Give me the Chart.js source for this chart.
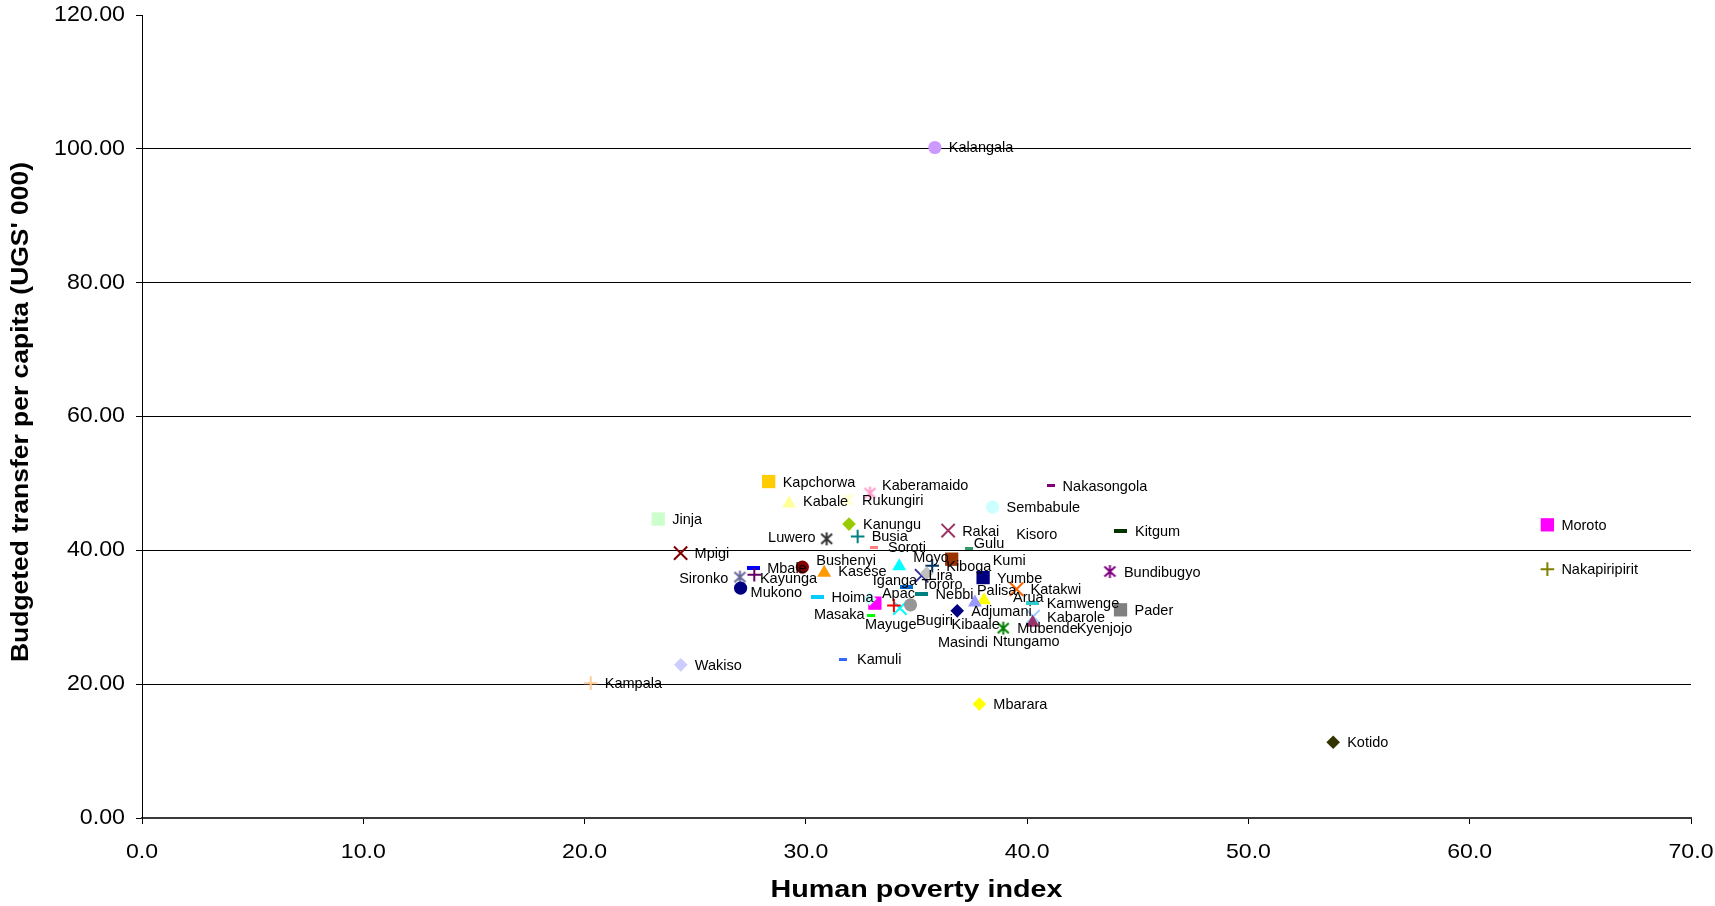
<!DOCTYPE html>
<html>
<head>
<meta charset="utf-8">
<script src="https://cdn.jsdelivr.net/npm/chart.js@4/dist/chart.umd.min.js"></script>
<style>
  html, body { margin: 0; padding: 0; background: #fff; }
  #wrap { width: 1715px; height: 906px; position: relative; }
</style>
</head>
<body>
<div id="wrap"><canvas id="chart" width="1715" height="906"></canvas></div>
<script>
// District names (series order)
const districts = [
  'Adjumani','Apac','Arua','Bugiri','Bundibugyo','Bushenyi','Busia','Gulu','Hoima','Iganga',
  'Jinja','Kabale','Kabarole','Kaberamaido','Kalangala','Kampala','Kamuli','Kamwenge','Kanungu','Kapchorwa',
  'Kasese','Katakwi','Kayunga','Kibaale','Kiboga','Kisoro','Kitgum','Kotido','Kumi','Kyenjojo',
  'Lira','Luwero','Masaka','Masindi','Mayuge','Mbale','Mbarara','Moroto','Moyo','Mpigi',
  'Mubende','Mukono','Nakapiripirit','Nakasongola','Nebbi','Ntungamo','Pader','Palisa','Rakai','Rukungiri',
  'Sembabule','Sironko','Soroti','Tororo','Wakiso','Yumbe'
];

// Human poverty index
const povertyIndex = [
  36.84, 33.12, 38.05, 34.25, 43.74, 29.84, 32.34, 36.59, 30.53, 32.89,
  23.33, 29.24, 40.27, 32.90, 35.83, 20.28, 31.68, 40.25, 31.95, 28.32,
  30.83, 39.52, 27.02, 34.73, 35.71, 37.38, 44.24, 53.83, 36.59, 40.25,
  35.23, 30.94, 29.73, 33.98, 32.94, 27.62, 37.84, 63.51, 34.22, 24.34,
  38.92, 27.05, 63.51, 41.06, 35.23, 35.46, 44.22, 37.64, 36.43, 31.91,
  38.44, 27.67, 33.08, 34.55, 24.35, 38.01
];

// Budgeted transfer per capita (UGS' 000)
const transferPerCapita = [
  30.96, 32.11, 32.55, 31.36, 36.83, 37.49, 42.07, 38.62, 33.10, 32.74,
  44.67, 47.00, 30.11, 48.56, 100.20, 20.15, 23.74, 32.11, 43.92, 50.28,
  36.65, 34.20, 36.00, 31.86, 37.68, 40.27, 42.82, 11.33, 38.68, 29.16,
  36.20, 41.72, 30.50, 31.75, 30.26, 37.34, 17.02, 43.81, 37.63, 39.58,
  28.37, 34.35, 37.19, 49.65, 33.45, 36.59, 31.11, 32.20, 42.96, 47.56,
  46.46, 36.34, 40.48, 34.45, 22.89, 35.93
];

const xTickValues = [0, 10, 20, 30, 40, 50, 60, 70];
const yTickValues = [0, 20, 40, 60, 80, 100, 120];

// Series colours, in the spreadsheet's automatic palette order
const seriesColors = [
  '#000080','#FF00FF','#FFFF00','#00FFFF','#800080','#800000','#008080','#0000FF','#00CCFF','#CCFFFF',
  '#CCFFCC','#FFFF99','#99CCFF','#FF99CC','#CC99FF','#FFCC99','#3366FF','#33CCCC','#99CC00','#FFCC00',
  '#FF9900','#FF6600','#666699','#969696','#003366','#339966','#003300','#333300','#993300','#993366',
  '#333399','#333333','#FFFFFF','#FF0000','#00FF00','#0000FF','#FFFF00','#FF00FF','#00FFFF','#800000',
  '#008000','#000080','#808000','#800080','#008080','#C0C0C0','#808080','#9999FF','#993366','#FFFFCC',
  '#CCFFFF','#660066','#FF8080','#0066CC','#CCCCFF','#000080'
];

// Marker shapes cycle through nine automatic styles
const markerCycle = ['diamond','square','triangle','x','star','circle','plus','dashShort','dashLong'];

// Label placement relative to each marker: [dx, dy, align]
const defaultLabelOffset = [14, 1, 'left'];
const labelOffsets = {
  Kaberamaido: [12, -7, 'left'],
  Luwero: [-11, -1, 'right'],
  Bushenyi: [14, -6, 'left'],
  Kabale: [14, -1, 'left'],
  Kasese: [14, -1, 'left'],
  Kayunga: [20, 2, 'left'],
  Sironko: [-26, 4, 'right'],
  Mukono: [10, 5, 'left'],
  Mayuge: [-6, 9, 'left'],
  Iganga: [3, -18, 'left'],
  Apac: [7, -9, 'left'],
  Bugiri: [16, 13, 'left'],
  Moyo: [14, -8, 'left'],
  Kumi: [41, 2, 'left'],
  Lira: [7, 0, 'left'],
  Tororo: [15, -2, 'left'],
  Gulu: [22, -16, 'left'],
  Kisoro: [47, -14, 'left'],
  Nakasongola: [12, 1, 'left'],
  Palisa: [2, -12, 'left'],
  Arua: [29, -2, 'left'],
  Kibaale: [41, 20, 'left'],
  Kyenjojo: [44, 6, 'left'],
  Masindi: [44, 37, 'left'],
  Ntungamo: [66, 69, 'left']
};

const FONT = '"Liberation Sans", Arial, sans-serif';

// Small canvases for marker shapes that Chart.js has no built-in for
function makeAsterisk(color) {
  const c = document.createElement('canvas');
  c.width = 15; c.height = 15;
  const g = c.getContext('2d');
  g.strokeStyle = color; g.lineWidth = 2; g.lineCap = 'butt';
  g.beginPath();
  g.moveTo(7.5, 1); g.lineTo(7.5, 14);
  g.moveTo(2, 2.5); g.lineTo(13, 12.5);
  g.moveTo(13, 2.5); g.lineTo(2, 12.5);
  g.stroke();
  return c;
}
function makeDash(color, w, h) {
  const c = document.createElement('canvas');
  c.width = w; c.height = h;
  const g = c.getContext('2d');
  g.fillStyle = color; g.fillRect(0, 0, w, h);
  return c;
}

const pointStyles = [], pointRadii = [], borderWidths = [], fillColors = [], strokeColors = [];
districts.forEach((name, i) => {
  const shape = markerCycle[i % markerCycle.length];
  const col = seriesColors[i];
  let style, r, bw = 0;
  switch (shape) {
    case 'diamond': style = 'rectRot'; r = 6.8; break;
    case 'square': style = 'rect'; r = 9.4; break;
    case 'triangle': style = 'triangle'; r = 8; break;
    case 'x': style = 'crossRot'; r = 9.4; bw = 2; break;
    case 'star': style = makeAsterisk(col); r = 7; break;
    case 'circle': style = 'circle'; r = 6.6; break;
    case 'plus': style = 'cross'; r = 6.8; bw = 2; break;
    case 'dashShort': style = makeDash(col, 8, 3); r = 4; break;
    case 'dashLong': style = makeDash(col, 13, 4); r = 6; break;
  }
  pointStyles.push(style);
  pointRadii.push(r);
  borderWidths.push(bw);
  fillColors.push(col);
  strokeColors.push(col);
});

const points = districts.map((name, i) => ({ x: povertyIndex[i], y: transferPerCapita[i] }));

// District name labels next to the markers
const districtLabels = {
  id: 'districtLabels',
  afterDatasetsDraw(chart) {
    const ctx = chart.ctx;
    const meta = chart.getDatasetMeta(0);
    ctx.save();
    ctx.font = '14.5px ' + FONT;
    ctx.fillStyle = '#000';
    ctx.textBaseline = 'middle';
    meta.data.forEach((el, i) => {
      const name = districts[i];
      const off = labelOffsets[name] || defaultLabelOffset;
      ctx.textAlign = off[2];
      ctx.fillText(name, el.x + off[0], el.y + off[1]);
    });
    ctx.restore();
  }
};

// Tick labels and axis titles, with slightly widened lettering
function stretchedText(ctx, text, x, y, sx, align) {
  ctx.save();
  ctx.translate(x, y);
  ctx.scale(sx, 1);
  ctx.textAlign = align;
  ctx.fillText(text, 0, 0);
  ctx.restore();
}

const axisText = {
  id: 'axisText',
  afterDraw(chart) {
    const ctx = chart.ctx;
    const xs = chart.scales.x, ys = chart.scales.y;
    ctx.save();
    ctx.fillStyle = '#000';
    ctx.textBaseline = 'middle';

    ctx.font = '21.5px ' + FONT;
    yTickValues.forEach(v => {
      stretchedText(ctx, v.toFixed(2), 125, ys.getPixelForValue(v), 1.08, 'right');
    });

    ctx.font = '21px ' + FONT;
    xTickValues.forEach(v => {
      stretchedText(ctx, v.toFixed(1), xs.getPixelForValue(v), 852, 1.1, 'center');
    });

    const xTitle = 'Human poverty index';
    ctx.font = 'bold 24px ' + FONT;
    let w = ctx.measureText(xTitle).width;
    stretchedText(ctx, xTitle, (xs.left + xs.right) / 2, 890, 292 / w, 'center');

    const yTitle = "Budgeted transfer per capita (UGS' 000)";
    ctx.font = 'bold 23px ' + FONT;
    w = ctx.measureText(yTitle).width;
    ctx.save();
    ctx.translate(22, 412);
    ctx.rotate(-Math.PI / 2);
    stretchedText(ctx, yTitle, 0, 0, 500 / w, 'center');
    ctx.restore();

    ctx.restore();
  }
};

new Chart(document.getElementById('chart'), {
  type: 'scatter',
  data: {
    datasets: [{
      data: points,
      pointStyle: pointStyles,
      pointRadius: pointRadii,
      pointBorderWidth: borderWidths,
      pointBackgroundColor: fillColors,
      pointBorderColor: strokeColors,
      showLine: false
    }]
  },
  options: {
    responsive: false,
    animation: false,
    devicePixelRatio: 1,
    layout: { padding: { left: 0, top: 15, right: 24, bottom: 0 } },
    plugins: { legend: { display: false }, tooltip: { enabled: false } },
    scales: {
      x: {
        type: 'linear',
        min: 0, max: 70,
        afterBuildTicks(scale) { scale.ticks = xTickValues.map(v => ({ value: v })); },
        afterFit(scale) { scale.height = 88; },
        ticks: { display: false },
        grid: { drawOnChartArea: false, drawTicks: true, tickLength: 6, tickColor: '#000' },
        border: { display: true, color: '#3a3a3a', width: 2 }
      },
      y: {
        type: 'linear',
        min: 0, max: 120,
        afterBuildTicks(scale) { scale.ticks = yTickValues.map(v => ({ value: v })); },
        afterFit(scale) { scale.width = 142; },
        ticks: { display: false },
        grid: {
          color: c => (c.tick && (c.tick.value === 120 || c.tick.value === 0)) ? 'rgba(0,0,0,0)' : '#000',
          tickColor: '#000',
          tickLength: 6,
          lineWidth: 1
        },
        border: { display: true, color: '#000', width: 1 }
      }
    }
  },
  plugins: [districtLabels, axisText]
});
</script>
</body>
</html>
